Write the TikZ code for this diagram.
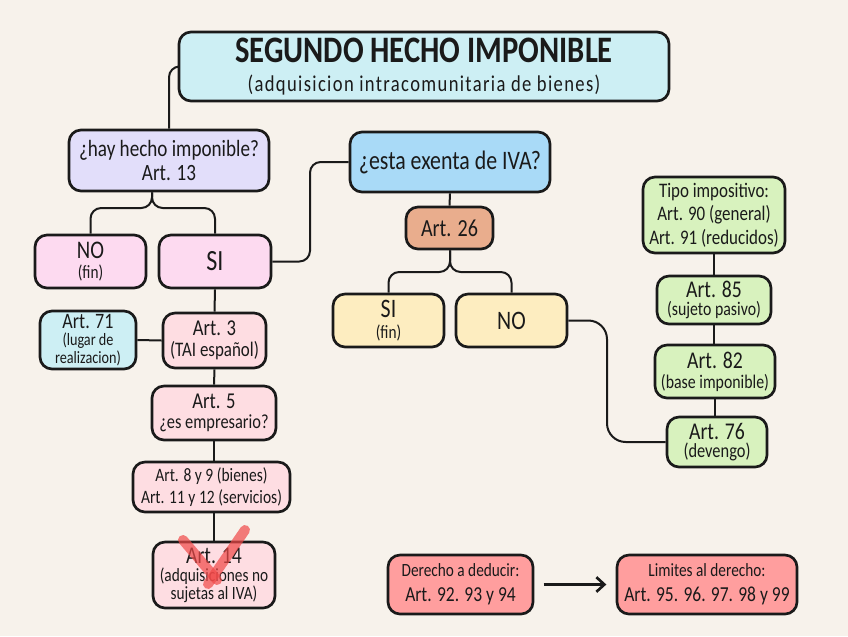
\documentclass[tikz,border=0pt]{standalone}
\usepackage{fontspec}
\setmainfont{Carlito}[FakeStretch=0.82]
\usetikzlibrary{calc,arrows.meta}
\definecolor{bg}{HTML}{F7F2EB}
\definecolor{ink}{HTML}{1A1A1A}
\definecolor{cyanbox}{HTML}{CDEFF4}
\definecolor{lavbox}{HTML}{E2DEFA}
\definecolor{pinkbox}{HTML}{FDDAF0}
\definecolor{bluebox}{HTML}{A9DAF7}
\definecolor{salmonbox}{HTML}{E9AD8D}
\definecolor{yellowbox}{HTML}{FDEDC0}
\definecolor{greenbox}{HTML}{D8F2BE}
\definecolor{rosebox}{HTML}{FEDDE2}
\definecolor{redbox}{HTML}{FF9E9E}
\definecolor{crossred}{HTML}{F04848}
\tikzset{
  box/.style={draw=ink, line width=2pt, rounded corners=9pt, inner sep=0pt, align=center, text=ink},
  conn/.style={draw=ink, line width=1.5pt, rounded corners=8pt},
  bs/.style={font=\fontsize{14}{#1}\selectfont},
}
\newcommand{\fs}[1]{\fontsize{#1}{#1}\selectfont}
\begin{document}
\begin{tikzpicture}[x=0.75pt,y=-0.75pt]
\fill[bg] (0,0) rectangle (848,636);
\useasboundingbox (0,0) rectangle (848,636);

% title
\node[box, fill=cyanbox, bs=22, minimum width=367.5pt, minimum height=51.75pt] (title) at (424,66.5)
  {{\fs{28}\bfseries SEGUNDO HECHO IMPONIBLE}\\
   {\fs{17}\addfontfeatures{LetterSpace=6}(adquisicion intracomunitaria de bienes)}};

% left branch
\node[box, fill=lavbox, bs=18, minimum width=150pt, minimum height=45.75pt] (hay) at (169,160.5)
  {{\fs{17.5}¿hay hecho imponible?}\\{\fs{17.5}Art. 13}};
\node[box, fill=pinkbox, bs=15.5, minimum width=83.25pt, minimum height=39.75pt] (no) at (90.5,261.5)
  {{\fs{19}NO}\\{\fs{14}(fin)}};
\node[box, fill=pinkbox, bs=15, minimum width=84pt, minimum height=39.75pt] (si) at (215,261.5)
  {\fs{22}SI};
\node[box, fill=cyanbox, bs=13.2, minimum width=72pt, minimum height=43.5pt] (a71) at (88,340)
  {{\fs{16.5}Art. 71}\\{\fs{13}(lugar de}\\{\fs{13}realizacion)}};
\node[box, fill=rosebox, bs=16, minimum width=77.25pt, minimum height=41.25pt] (a3) at (214.5,340.5)
  {{\fs{17}Art. 3}\\{\fs{15.5}(TAI español)}};
\node[box, fill=rosebox, bs=14.5, minimum width=93pt, minimum height=40.5pt] (a5) at (214,413)
  {{\fs{17}Art. 5}\\{\fs{15}¿es empresario?}};
\node[box, fill=rosebox, bs=17, minimum width=117.75pt, minimum height=37.5pt] (a8) at (211.5,487)
  {{\fs{14.2}Art. 8 y 9 (bienes)}\\{\fs{14.2}Art. 11 y 12 (servicios)}};
\node[box, fill=rosebox, bs=13.5, minimum width=91.5pt, minimum height=49.5pt] (a14) at (214,575)
  {{\fs{18}Art. 14}\\{\fs{14}(adquisiciones no}\\{\fs{14}sujetas al IVA)}};

% middle branch
\node[box, fill=bluebox, bs=20, minimum width=150pt, minimum height=45pt] (esta) at (450,162)
  {\fs{20}¿esta exenta de IVA?};
\node[box, fill=salmonbox, bs=18, minimum width=65.25pt, minimum height=31.5pt] (a26) at (449.5,228)
  {\fs{18.4}Art. 26};
\node[box, fill=yellowbox, bs=15.5, minimum width=83.25pt, minimum height=39.75pt] (si2) at (388.5,320.5)
  {{\fs{20}SI}\\{\fs{14}(fin)}};
\node[box, fill=yellowbox, bs=15, minimum width=83.25pt, minimum height=39.75pt] (no2) at (511.5,320.5)
  {\fs{20}NO};

% right column
\node[box, fill=greenbox, bs=17.5, minimum width=106.5pt, minimum height=57pt] (tipo) at (714,215)
  {{\fs{15.5}Tipo impositivo:}\\{\fs{15.5}Art. 90 (general)}\\{\fs{15.5}Art. 91 (reducidos)}};
\node[box, fill=greenbox, bs=14, minimum width=85.5pt, minimum height=36pt] (a85) at (714,300)
  {{\fs{18}Art. 85}\\{\fs{14.5}(sujeto pasivo)}};
\node[box, fill=greenbox, bs=15, minimum width=90pt, minimum height=39.75pt] (a82) at (715,371.5)
  {{\fs{18}Art. 82}\\{\fs{14.5}(base imponible)}};
\node[box, fill=greenbox, bs=14, minimum width=75pt, minimum height=37.5pt] (a76) at (717,442)
  {{\fs{18}Art. 76}\\{\fs{15}(devengo)}};

% bottom
\node[box, fill=redbox, bs=19, minimum width=108.75pt, minimum height=44.25pt] (der) at (460.5,584.5)
  {{\fs{14}Derecho a deducir:}\\{\fs{16}Art. 92. 93 y 94}};
\node[box, fill=redbox, bs=19, minimum width=135pt, minimum height=44.25pt] (lim) at (707,584.5)
  {{\fs{14}Limites al derecho:}\\{\fs{16}Art. 95. 96. 97. 98 y 99}};

% connectors
\coordinate (f1) at (152,208);
\coordinate (f2) at (450,272);
\coordinate (k1) at (310,0);
\coordinate (k2) at (607,0);
\draw[conn] (title.west) -| (hay.north);
\draw[conn] (f1 |- hay.south) -- (f1) -| (no.north);
\draw[conn] (f1 |- hay.south) -- (f1) -| (si.north);
\draw[conn] (si.east) -- (si.east -| k1) |- (esta.west);
\draw[conn] (esta.south) -- (a26.north);
\draw[conn] (f2 |- a26.south) -- (f2) -| (si2.north);
\draw[conn] (f2 |- a26.south) -- (f2) -| (no2.north);
\draw[conn, rounded corners=14pt] (no2.east) -- (no2.east -| k2) |- (a76.west);
\draw[conn] (si.south) -- (a3.north);
\draw[conn] (a71.east) -- (a3.west);
\draw[conn] (a3.south) -- (a5.north);
\draw[conn] (a5.south) -- (a5.south |- a8.north);
\draw[conn] (a8.south -| a14.north) -- (a14.north);
\draw[conn] (tipo.south) -- (tipo.south |- a85.north);
\draw[conn] (a85.south) -- (a85.south |- a82.north);
\draw[conn] (a82.south) -- (a82.south |- a76.north);
\draw[draw=ink, line width=2pt, shorten <=7pt, shorten >=7pt, -{Straight Barb[length=6pt,width=11pt]}] (der.east) -- (lim.west);

% red cross over Art. 14
\draw[crossred, opacity=0.7, line width=7.5pt, line cap=round] (183,540) -- (217,580);
\draw[crossred, opacity=0.7, line width=7.5pt, line cap=round] (245,530) -- (208,584);
\end{tikzpicture}
\end{document}
